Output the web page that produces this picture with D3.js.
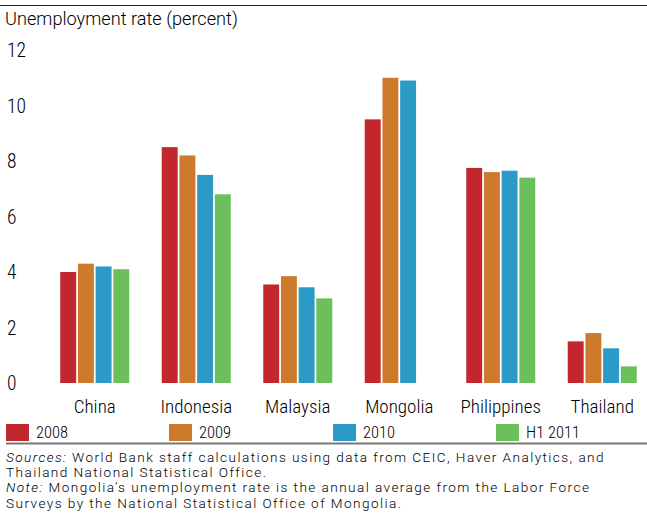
<!DOCTYPE html>
<html>
<head>
<meta charset="utf-8">
<script src="https://cdn.jsdelivr.net/npm/d3@7"></script>
<style>
  body { margin: 0; background: #fff; }
  .cond { font-family: "Roboto Condensed", "Liberation Sans Narrow", sans-serif; font-weight: 300; }
  .plain { font-family: Roboto, "Liberation Sans", Arial, sans-serif; font-weight: 300; }
</style>
</head>
<body>
<script>
var countries = ["China", "Indonesia", "Malaysia", "Mongolia", "Philippines", "Thailand"];
var seriesNames = ["2008", "2009", "2010", "H1 2011"];
var v2008 = [4.0, 8.5, 3.55, 9.5, 7.75, 1.5];
var v2009 = [4.3, 8.2, 3.85, 11.0, 7.6, 1.8];
var v2010 = [4.2, 7.5, 3.45, 10.9, 7.65, 1.25];
var vH1 = [4.1, 6.8, 3.05, null, 7.4, 0.6];
var yTicks = [0, 2, 4, 6, 8, 10, 12];
var colors = ["#c1272d", "#cd7a2c", "#2b9ac6", "#6cc05c"];

var svgWidth = 647;
var svgHeight = 516;

var svg = d3.select("body").append("svg")
    .attr("width", svgWidth)
    .attr("height", svgHeight);

// top rule and title
svg.append("line")
    .attr("x1", 0).attr("x2", svgWidth)
    .attr("y1", 5.5).attr("y2", 5.5)
    .attr("stroke", "#222").attr("stroke-width", 1);

var title = svg.append("text")
    .attr("class", "plain")
    .attr("x", 5).attr("y", 25)
    .style("font-size", "16px")
    .attr("fill", "#000")
    .text("Unemployment rate (percent)");
// fit title to reference width
var tw = title.node().getComputedTextLength();
title.style("font-size", (16 * 233 / tw) + "px");

var y = d3.scaleLinear().domain([0, 12]).range([383, 50]);
var x = d3.scaleBand().domain(countries).range([44, 653])
    .paddingInner(0.32).paddingOuter(0.16);
var xs = d3.scaleBand().domain(seriesNames).range([0, x.bandwidth()]).paddingInner(0.1);

// y tick labels
svg.selectAll(".ytick")
    .data(yTicks)
    .enter().append("text")
    .attr("class", "ytick cond")
    .attr("x", 7)
    .attr("y", d => y(d) + 7)
    .style("font-size", "19.5px")
    .attr("fill", "#000")
    .text(d => d);

var rows = [v2008, v2009, v2010, vH1];
var bars = [];
rows.forEach((vals, i) => {
    vals.forEach((v, j) => {
        if (v != null) bars.push({country: countries[j], series: seriesNames[i], idx: i, value: v});
    });
});

svg.selectAll(".bar")
    .data(bars)
    .enter().append("rect")
    .attr("class", "bar")
    .attr("x", d => x(d.country) + xs(d.series))
    .attr("width", xs.bandwidth())
    .attr("y", d => y(d.value))
    .attr("height", d => y(0) - y(d.value))
    .attr("fill", d => colors[d.idx]);

// category labels
svg.selectAll(".xlab")
    .data(countries)
    .enter().append("text")
    .attr("class", "xlab cond")
    .attr("x", d => x(d) + x.bandwidth() / 2)
    .attr("y", 413)
    .attr("text-anchor", "middle")
    .style("font-size", "19px")
    .attr("fill", "#000")
    .text(d => d);

// legend
var legendX = [6, 169, 333, 496];
var legend = svg.selectAll(".leg")
    .data(seriesNames)
    .enter().append("g")
    .attr("class", "leg")
    .attr("transform", (d, i) => `translate(${legendX[i]}, 424)`);

legend.append("rect")
    .attr("width", 23).attr("height", 17)
    .attr("fill", (d, i) => colors[i]);

legend.append("text")
    .attr("class", "cond")
    .attr("x", 30).attr("y", 14)
    .style("font-size", "16.5px")
    .attr("fill", "#000")
    .text(d => d);

svg.append("line")
    .attr("x1", 6).attr("x2", svgWidth)
    .attr("y1", 443.5).attr("y2", 443.5)
    .attr("stroke", "#777").attr("stroke-width", 2);

// notes
var notes = [
    [["Sources:", true], [" World Bank staff calculations using data from CEIC, Haver Analytics, and", false]],
    [["Thailand National Statistical Office.", false]],
    [["Note:", true], [" Mongolia\u2019s unemployment rate is the annual average from the Labor Force", false]],
    [["Surveys by the National Statistical Office of Mongolia.", false]]
];

var noteLines = notes.map((line, i) => {
    var t = svg.append("text")
        .attr("class", "plain")
        .attr("x", 6).attr("y", 461.5 + i * 15.4)
        .style("font-size", "13.6px")
        .attr("fill", "#000");
    line.forEach(p => {
        t.append("tspan")
            .style("font-style", p[1] ? "italic" : "normal")
            .text(p[0]);
    });
    return t;
});
// the first note line runs to about x = 605 in the reference: spread letters to match
var first = noteLines[0];
var nw = first.node().getComputedTextLength();
var nChars = first.text().length;
var spacing = (599 - nw) / nChars;
noteLines.forEach(t => t.style("letter-spacing", spacing + "px"));
</script>
</body>
</html>
